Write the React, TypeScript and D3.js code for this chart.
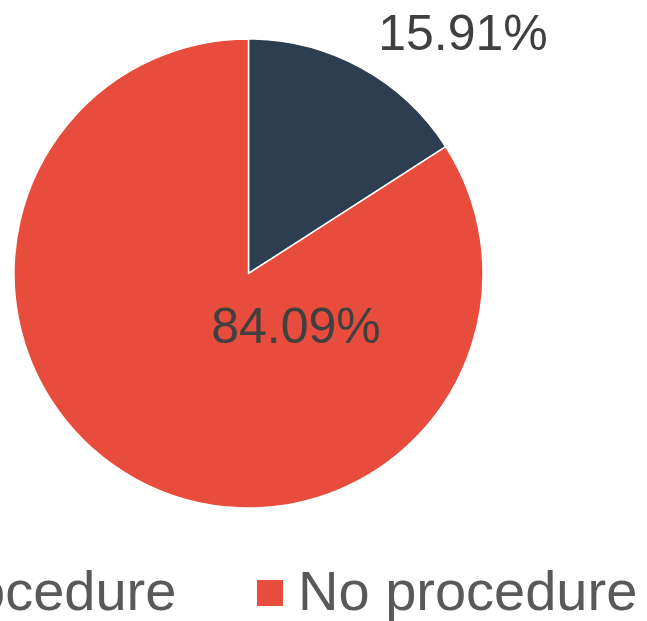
import React from "react";
import * as d3 from "d3";

const categories = ["Procedure", "No procedure"];
const values = [15.91, 84.09];
const colors = ["#2C3E50", "#E74C3C"];
const labelTexts = ["15.91%", "84.09%"];

const W = 647;
const H = 621;
const cx = 248.5;
const cy = 273.5;
const R = 234.5;

// label anchor offsets relative to pie center (center x, baseline y)
const labelOffsets: [number, number][] = [
  [214.5, -223.5],
  [47.5, 69.5],
];

// legend item start x (square left) and row baseline
const legendX = [-123, 257];
const legendBaseline = 610;

export default function App() {
  const pie = d3
    .pie<number>()
    .sort(null)
    .value((d) => d);
  const arcs = pie(values);
  const arc = d3.arc<d3.PieArcDatum<number>>().innerRadius(0).outerRadius(R);
  const font = "'Liberation Sans', Arial, sans-serif";

  return (
    <svg
      width={W}
      height={H}
      style={{ position: "absolute", left: 0, top: 0, background: "#fff" }}
    >
      <g transform={`translate(${cx},${cy})`}>
        {arcs.map((a, i) => (
          <path
            key={i}
            d={arc(a) || ""}
            fill={colors[i]}
            stroke="#fff"
            strokeWidth={1.5}
            strokeLinejoin="round"
          />
        ))}
        {arcs.map((a, i) => (
          <text
            key={"l" + i}
            x={labelOffsets[i][0]}
            y={labelOffsets[i][1]}
            textAnchor="middle"
            fontFamily={font}
            fontSize={50}
            fill="#404040"
          >
            {labelTexts[i]}
          </text>
        ))}
      </g>
      <g>
        {categories.map((c, i) => (
          <g key={"lg" + i}>
            <rect
              x={legendX[i]}
              y={580}
              width={26}
              height={26}
              fill={colors[i]}
            />
            <text
              x={legendX[i] + 41}
              y={legendBaseline}
              fontFamily={font}
              fontSize={56}
              fill="#595959"
            >
              {c}
            </text>
          </g>
        ))}
      </g>
    </svg>
  );
}
